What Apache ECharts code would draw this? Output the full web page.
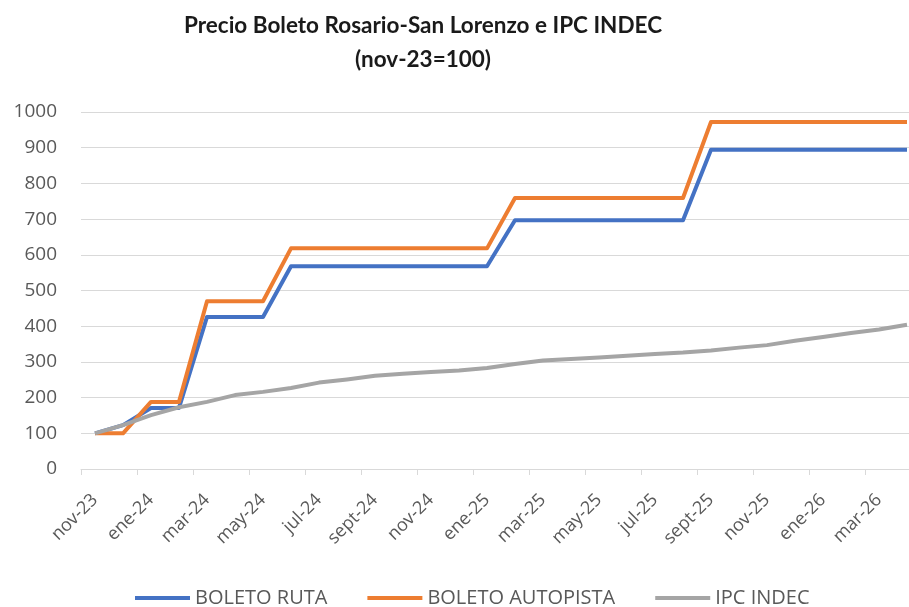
<!DOCTYPE html>
<html>
<head>
<meta charset="utf-8">
<title>Precio Boleto Rosario-San Lorenzo e IPC INDEC</title>
<script src="https://cdn.jsdelivr.net/npm/echarts@6/dist/echarts.min.js"></script>
<style>
  html, body { margin: 0; padding: 0; overflow: hidden; background: #fff; }
  /* el gráfico original está recortado a la derecha: el lienzo es algo más ancho que la ventana */
  #chart { width: 921px; height: 607px; }
</style>
</head>
<body>
<div id="chart"></div>
<script>
// meses (nov-23 = 100)
const categories = [
  'nov-23', 'dic-23', 'ene-24', 'feb-24', 'mar-24', 'abr-24', 'may-24', 'jun-24',
  'jul-24', 'ago-24', 'sept-24', 'oct-24', 'nov-24', 'dic-24', 'ene-25', 'feb-25',
  'mar-25', 'abr-25', 'may-25', 'jun-25', 'jul-25', 'ago-25', 'sept-25', 'oct-25',
  'nov-25', 'dic-25', 'ene-26', 'feb-26', 'mar-26', 'abr-26'
];

// series
const boletoRuta = [
  100, 123, 171, 171, 426, 426, 426, 568,
  568, 568, 568, 568, 568, 568, 568, 697,
  697, 697, 697, 697, 697, 697, 894, 894,
  894, 894, 894, 894, 894, 894
];
const boletoAutopista = [
  100, 100, 188, 188, 470, 470, 470, 618,
  618, 618, 618, 618, 618, 618, 618, 759,
  759, 759, 759, 759, 759, 759, 972, 972,
  972, 972, 972, 972, 972, 972
];
const ipcIndec = [
  100, 123, 151, 173, 188, 207, 216, 227,
  242, 251, 261, 267, 272, 276, 283, 294,
  304, 308, 312, 317, 322, 326, 332, 340,
  347, 359, 370, 381, 391, 404
];

const chart = echarts.init(document.getElementById('chart'));

const lineSerie = (name, data, color) => ({
  name,
  type: 'line',
  data,
  symbol: 'none',
  lineStyle: { color, width: 4, join: 'round' },
  itemStyle: { color },
  animation: false,
});

chart.setOption({
  title: {
    text: 'Precio Boleto Rosario-San Lorenzo e IPC INDEC\n(nov-23=100)',
    left: 418,
    top: 4,
    textAlign: 'center',
    textStyle: {
      fontFamily: 'Lato',
      fontSize: 22.5,
      fontWeight: 'bold',
      color: '#1a1a1a',
      lineHeight: 34,
    },
  },
  legend: {
    left: 135,
    top: 588,
    padding: 0,
    itemWidth: 55,
    itemHeight: 4,
    itemGap: 40,
    icon: 'rect',
    textStyle: {
      fontFamily: 'Open Sans',
      fontSize: 20,
      color: '#595959',
    },
    data: ['BOLETO RUTA', 'BOLETO AUTOPISTA', 'IPC INDEC'],
  },
  grid: {
    left: 81,
    right: 0,
    top: 112,
    bottom: 138,
    outerBoundsMode: 'none',
  },
  xAxis: {
    type: 'category',
    data: categories,
    boundaryGap: true,
    axisLine: { lineStyle: { color: '#d9d9d9', width: 1 } },
    axisTick: { show: true, interval: 1, length: 6, lineStyle: { color: '#d9d9d9' } },
    axisLabel: {
      interval: 1,
      rotate: 45,
      margin: 28,
      fontFamily: 'Open Sans',
      fontSize: 18,
      color: '#595959',
    },
  },
  yAxis: {
    type: 'value',
    min: 0,
    max: 1000,
    interval: 100,
    axisLine: { show: false },
    axisTick: { show: false },
    splitLine: { lineStyle: { color: '#d9d9d9', width: 1 } },
    axisLabel: {
      margin: 24,
      fontFamily: 'Open Sans',
      fontSize: 19,
      color: '#595959',
      formatter: (v) => String(v),
    },
  },
  series: [
    lineSerie('BOLETO RUTA', boletoRuta, '#4472c4'),
    lineSerie('BOLETO AUTOPISTA', boletoAutopista, '#ed7d31'),
    lineSerie('IPC INDEC', ipcIndec, '#a5a5a5'),
  ],
});
</script>
</body>
</html>
